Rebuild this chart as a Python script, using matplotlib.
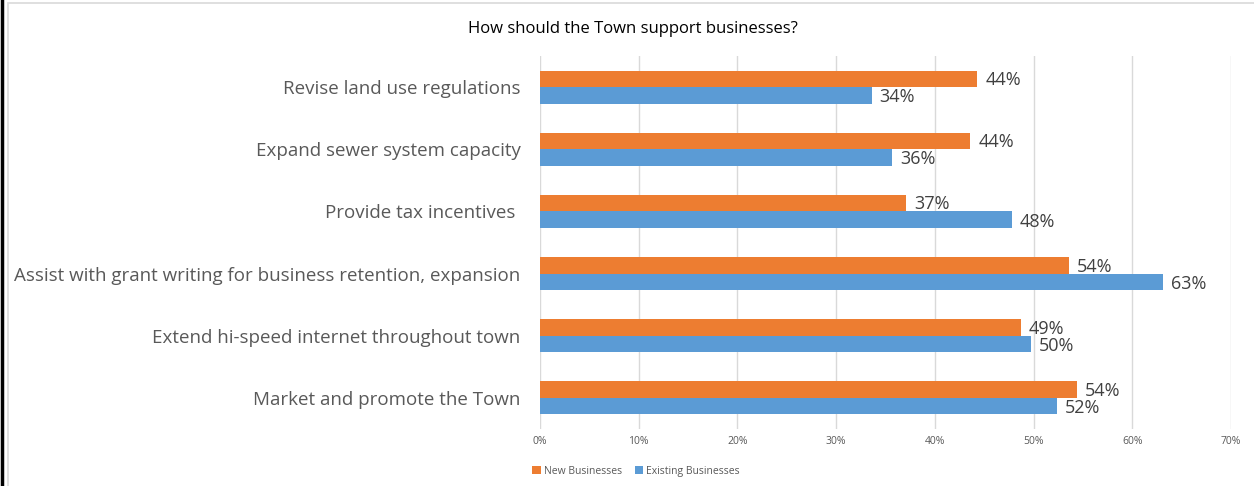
import matplotlib.pyplot as plt
import numpy as np
from matplotlib.patches import Rectangle
from matplotlib.lines import Line2D

plt.rcParams['font.family'] = ['Open Sans', 'DejaVu Sans']

# ---------- 数据 ----------
categories = [
    "Revise land use regulations",
    "Expand sewer system capacity",
    "Provide tax incentives ",
    "Assist with grant writing for business retention, expansion",
    "Extend hi-speed internet throughout town",
    "Market and promote the Town",
]
new_biz = [44.3, 43.6, 37.1, 53.6, 48.7, 54.4]
existing_biz = [33.6, 35.7, 47.8, 63.1, 49.7, 52.4]
series_names = ["New Businesses", "Existing Businesses"]
x_ticks = [0, 10, 20, 30, 40, 50, 60, 70]

ORANGE = "#ED7D31"
BLUE = "#5B9BD5"
TEXT = "#595959"

W, H = 1254, 486
fig = plt.figure(figsize=(W / 100, H / 100), dpi=100)

# 外框
fig.add_artist(Rectangle((8 / W, -0.05), 1.05, 1 - 3 / H + 0.05, transform=fig.transFigure,
                         fill=False, edgecolor="#D9D9D9", lw=1.2))
fig.add_artist(Line2D([1.5 / W, 1.5 / W], [0, 1], transform=fig.transFigure, color="black", lw=2.5))

ax = fig.add_axes([540 / W, 1 - 429 / H, (1231 - 540) / W, (429 - 56) / H])

y = np.arange(len(categories))
h = 0.266
ax.barh(y - h / 2, new_biz, height=h, color=ORANGE, label=series_names[0], zorder=3)
ax.barh(y + h / 2, existing_biz, height=h, color=BLUE, label=series_names[1], zorder=3)

for i in range(len(categories)):
    ax.text(new_biz[i] + 0.8, y[i] - h / 2 + 0.02, f"{round(new_biz[i])}%", va="center", ha="left",
            fontsize=13, color="#404040")
    ax.text(existing_biz[i] + 0.8, y[i] + h / 2 + 0.03, f"{round(existing_biz[i])}%", va="center", ha="left",
            fontsize=13, color="#404040")

ax.set_ylim(len(categories) - 0.5, -0.5)
ax.set_xlim(0, 70)
ax.set_yticks(y)
ax.set_yticklabels(categories, fontsize=13.5, color=TEXT)
ax.set_xticks(x_ticks)
ax.set_xticklabels([f"{t}%" for t in x_ticks], fontsize=7.5, color=TEXT)
ax.tick_params(axis="both", length=0)
ax.tick_params(axis="y", pad=14)
ax.tick_params(axis="x", pad=5)
ax.grid(axis="x", color="#D9D9D9", lw=1, zorder=0)
for s in ax.spines.values():
    s.set_visible(False)

fig.text(633 / W, 1 - 29 / H, "How should the Town support businesses?", ha="center", va="center",
         fontsize=12, color="black")

fig.legend(loc="center", bbox_to_anchor=(636 / W, 1 - 471 / H), ncol=2, frameon=False,
           fontsize=7.5, labelcolor=TEXT, handlelength=0.8, handleheight=0.8,
           handletextpad=0.3, columnspacing=1.2)

fig.savefig("out.png", dpi=100)
